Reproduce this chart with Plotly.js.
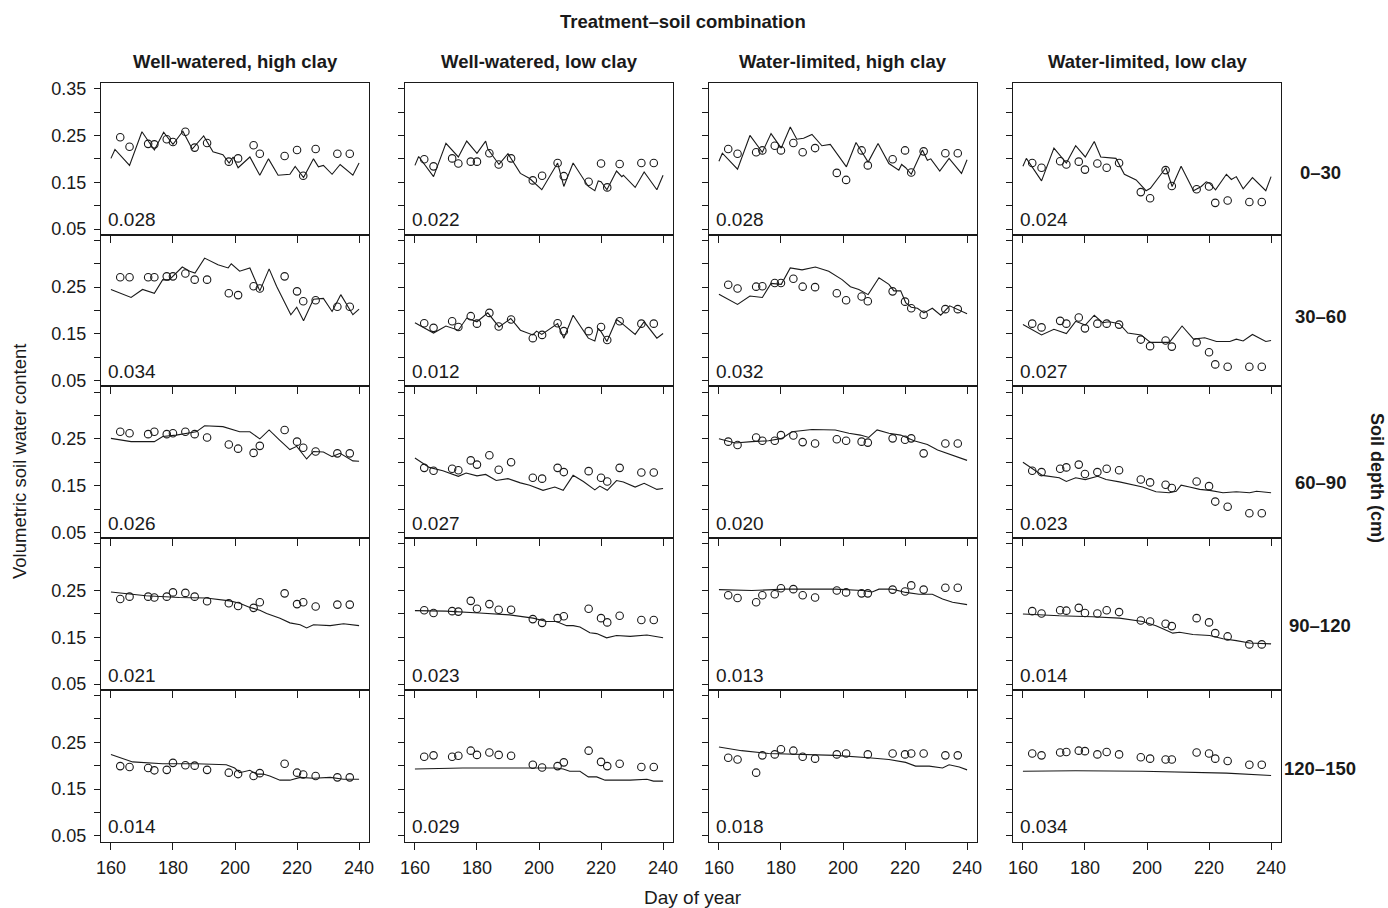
<!DOCTYPE html>
<html><head><meta charset="utf-8">
<script src="https://cdn.plot.ly/plotly-3.0.1.min.js"></script>
<style>html,body{margin:0;padding:0;background:#fff}#chart{width:1388px;height:908px}</style>
</head><body><div id="chart"></div>
<script>
// ---------- DATA ----------
const columns = ["Well-watered, high clay","Well-watered, low clay","Water-limited, high clay","Water-limited, low clay"];
const depths = ["0–30","30–60","60–90","90–120","120–150"];
const xTicks = [160,180,200,220,240];
const yTicks = [0.05,0.10,0.15,0.20,0.25,0.30,0.35];
const obsDays = [163,166,172,174,178,180,184,187,191,198,201,206,208,216,220,222,226,233,237];
const rmse = [
  ["0.028","0.022","0.028","0.024"],
  ["0.034","0.012","0.032","0.027"],
  ["0.026","0.027","0.020","0.023"],
  ["0.021","0.023","0.013","0.014"],
  ["0.014","0.029","0.018","0.034"]
];

// Well-watered, high clay
const simD_r1c1 = [160,161.3,166,170,174,177,180,183.2,186.2,189.9,192.9,196.1,198.1,199.4,201,204.8,208,210.8,213.9,217.7,219.4,222.1,225.3,226.9,228.5,231.3,233.9,238,240];
const simV_r1c1 = [0.201,0.220,0.186,0.258,0.219,0.257,0.231,0.259,0.221,0.249,0.215,0.209,0.191,0.204,0.181,0.204,0.165,0.200,0.165,0.167,0.184,0.160,0.200,0.183,0.186,0.167,0.188,0.165,0.191];
const obs_r1c1 = [0.246,0.226,0.232,0.231,0.242,0.236,0.258,0.224,0.234,0.194,0.201,0.229,0.211,0.206,0.219,0.164,0.221,0.211,0.211];

const simD_r2c1 = [160,166.5,170.2,174,176.7,178.7,183,185.4,187.1,190.2,194.5,197.8,198.8,201.5,204.8,208,211,213.4,218,219.9,222.1,225.3,228.5,231.3,234.1,238,240];
const simV_r2c1 = [0.245,0.228,0.245,0.237,0.266,0.265,0.293,0.284,0.280,0.312,0.298,0.291,0.300,0.284,0.291,0.242,0.289,0.252,0.191,0.207,0.178,0.224,0.226,0.198,0.234,0.191,0.203];
const obs_r2c1 = [0.271,0.271,0.271,0.271,0.273,0.273,0.279,0.266,0.266,0.237,0.233,0.252,0.247,0.273,0.241,0.220,0.222,0.208,0.208];

const simD_r3c1 = [160,166.5,174,176.7,181,187.5,190.2,196.1,201.5,204.8,208,211,214.3,217.7,219.9,223.1,225.3,228.5,231.3,233.9,238,240];
const simV_r3c1 = [0.251,0.244,0.244,0.255,0.258,0.265,0.278,0.276,0.265,0.265,0.250,0.269,0.248,0.227,0.234,0.207,0.223,0.222,0.212,0.219,0.203,0.202];
const obs_r3c1 = [0.265,0.262,0.260,0.265,0.260,0.262,0.265,0.260,0.253,0.238,0.229,0.220,0.235,0.269,0.244,0.231,0.223,0.219,0.219];

const simD_r4c1 = [160,171.3,182.1,190.7,198.3,201.5,204.8,208,210.2,214.5,217.7,221,223.1,225.3,230.7,235,240];
const simV_r4c1 = [0.247,0.239,0.235,0.234,0.228,0.223,0.214,0.208,0.201,0.191,0.181,0.177,0.170,0.177,0.175,0.179,0.175];
const obs_r4c1 = [0.232,0.237,0.237,0.235,0.237,0.246,0.245,0.237,0.227,0.223,0.217,0.213,0.225,0.244,0.221,0.225,0.216,0.220,0.220];

const simD_r5c1 = [160,167,176.7,187.5,197.2,199.9,201.5,204.8,206.9,209.1,211.2,214.5,217.7,221,225.3,230.7,235,240];
const simV_r5c1 = [0.224,0.208,0.204,0.204,0.202,0.195,0.185,0.190,0.182,0.182,0.178,0.169,0.169,0.175,0.173,0.175,0.171,0.171];
const obs_r5c1 = [0.199,0.197,0.195,0.190,0.191,0.206,0.201,0.200,0.191,0.185,0.182,0.178,0.184,0.204,0.185,0.181,0.178,0.175,0.175];

// Well-watered, low clay
const simD_r1c2 = [160,161.2,166,170,174,176.7,180,182.8,183.5,187.1,190,194,197,200.9,206,208,211,215.9,218,219.1,220,221.9,225,226.7,227.2,231,233.9,238,240];
const simV_r1c2 = [0.186,0.205,0.162,0.233,0.204,0.238,0.212,0.238,0.221,0.188,0.211,0.169,0.158,0.134,0.191,0.141,0.191,0.141,0.132,0.153,0.151,0.134,0.174,0.162,0.165,0.139,0.172,0.134,0.165];
const obs_r1c2 = [0.199,0.184,0.201,0.190,0.194,0.194,0.212,0.188,0.201,0.154,0.164,0.191,0.163,0.151,0.190,0.139,0.189,0.191,0.191];

const simD_r2c2 = [160,166,170,174,176.7,180,183.5,187.1,190.9,194,198,199.2,200.9,206,208,211,215.9,218,219.1,220,221.9,225,227.2,231,233.9,238,240];
const simV_r2c2 = [0.174,0.152,0.167,0.158,0.184,0.176,0.195,0.165,0.183,0.158,0.148,0.156,0.149,0.172,0.141,0.190,0.141,0.135,0.162,0.155,0.134,0.181,0.170,0.149,0.176,0.141,0.151];
const obs_r2c2 = [0.173,0.163,0.177,0.165,0.188,0.172,0.195,0.166,0.181,0.141,0.148,0.173,0.156,0.156,0.165,0.137,0.177,0.172,0.172];

const simD_r3c2 = [160,164.6,169,174,176.5,180,182.8,186.2,190,194,197,201.3,205.1,207.8,211,214.3,218,219.6,222,225,227.2,231,233.9,238,240];
const simV_r3c2 = [0.209,0.189,0.182,0.170,0.177,0.171,0.174,0.161,0.165,0.156,0.151,0.140,0.147,0.140,0.172,0.159,0.141,0.149,0.140,0.161,0.158,0.147,0.155,0.142,0.144];
const obs_r3c2 = [0.188,0.182,0.186,0.183,0.204,0.195,0.215,0.184,0.200,0.167,0.165,0.188,0.179,0.181,0.167,0.159,0.188,0.178,0.178];

const simD_r4c2 = [160,170,180.8,190.5,198.1,202.4,205.6,208.9,211,213.2,216.4,218.6,221.8,225,229.4,234.8,240];
const simV_r4c2 = [0.207,0.206,0.202,0.198,0.191,0.184,0.184,0.175,0.175,0.172,0.160,0.158,0.149,0.154,0.152,0.155,0.149];
const obs_r4c2 = [0.208,0.202,0.206,0.205,0.228,0.211,0.221,0.209,0.209,0.189,0.181,0.191,0.195,0.211,0.191,0.182,0.196,0.187,0.187];

const simD_r5c2 = [160,175.4,191.6,205.6,207.8,209.9,213.2,215.9,218.6,221.3,229.4,234.8,236.9,240];
const simV_r5c2 = [0.193,0.195,0.195,0.195,0.193,0.188,0.188,0.176,0.176,0.169,0.169,0.171,0.167,0.167];
const obs_r5c2 = [0.219,0.222,0.219,0.221,0.232,0.223,0.228,0.223,0.221,0.202,0.196,0.199,0.207,0.232,0.208,0.199,0.204,0.197,0.197];

// Water-limited, high clay
const simD_r1c3 = [160,161.1,166,170,174,176.8,180.1,183,185.1,187.3,190,193.2,195.9,201.1,204.2,208.1,211.3,214.8,218,218.9,220.2,222,225.6,227.2,228.3,231.2,234.2,238.2,240];
const simV_r1c3 = [0.195,0.212,0.178,0.250,0.214,0.254,0.223,0.268,0.242,0.244,0.252,0.228,0.231,0.183,0.235,0.193,0.233,0.190,0.176,0.188,0.181,0.167,0.219,0.197,0.200,0.174,0.201,0.169,0.198];
const obs_r1c3 = [0.221,0.211,0.214,0.218,0.228,0.218,0.234,0.214,0.223,0.170,0.155,0.218,0.186,0.199,0.218,0.171,0.216,0.212,0.212];

const simD_r2c3 = [160,166,170,174,176.8,180.1,183,186.8,191.1,195.4,199.7,202.4,205.1,208.1,211.6,214.8,216.4,218.6,220.2,222,224,226.1,228.8,231.5,234.4,238.3,240];
const simV_r2c3 = [0.235,0.213,0.231,0.228,0.258,0.256,0.291,0.287,0.293,0.284,0.266,0.251,0.245,0.234,0.270,0.256,0.242,0.242,0.217,0.207,0.205,0.195,0.205,0.190,0.210,0.197,0.193];
const obs_r2c3 = [0.255,0.247,0.251,0.252,0.259,0.259,0.268,0.251,0.250,0.237,0.222,0.230,0.220,0.241,0.219,0.205,0.191,0.203,0.203];

const simD_r3c3 = [160,165.2,170.6,176,180.3,183.5,190,197.5,201.9,205.6,208.3,211,214.8,218.6,222.9,227.2,230.5,233.7,237.1,240];
const simV_r3c3 = [0.250,0.241,0.244,0.246,0.251,0.265,0.270,0.269,0.262,0.258,0.253,0.269,0.262,0.258,0.246,0.238,0.226,0.219,0.212,0.204];
const obs_r3c3 = [0.244,0.237,0.253,0.246,0.246,0.258,0.257,0.243,0.240,0.249,0.246,0.244,0.242,0.251,0.248,0.251,0.219,0.240,0.240];

const simD_r4c3 = [160,170.6,181.4,197.5,206.2,209.4,211.6,215.9,220.2,224.5,228.8,232.1,235.3,240];
const simV_r4c3 = [0.252,0.250,0.253,0.253,0.250,0.247,0.253,0.253,0.246,0.242,0.242,0.232,0.225,0.220];
const obs_r4c3 = [0.240,0.234,0.225,0.240,0.242,0.255,0.253,0.240,0.235,0.250,0.246,0.244,0.244,0.252,0.248,0.261,0.252,0.256,0.256];

const simD_r5c3 = [160,167.3,176,186.8,197.5,208.3,214.8,220.2,223.4,227.8,232.1,234.2,237.5,240];
const simV_r5c3 = [0.240,0.232,0.226,0.224,0.222,0.217,0.213,0.207,0.199,0.199,0.195,0.202,0.197,0.191];
const obs_r5c3 = [0.217,0.213,0.185,0.222,0.224,0.235,0.232,0.219,0.215,0.224,0.226,null,0.224,0.226,0.224,0.226,0.226,0.222,0.222];

// Water-limited, low clay
const simD_r1c4 = [160,161.1,166,170,174,177,180.1,183,185.1,187.8,190,192.7,196.5,199.7,201.1,206.1,208.1,211,215,217.5,219.1,220.2,222.1,225.6,227.2,228.8,231,234,238.3,240];
const simV_r1c4 = [0.184,0.201,0.153,0.223,0.191,0.228,0.204,0.237,0.204,0.202,0.201,0.167,0.155,0.132,0.137,0.181,0.141,0.184,0.132,0.141,0.151,0.148,0.134,0.167,0.156,0.162,0.136,0.160,0.132,0.162];
const obs_r1c4 = [0.191,0.181,0.195,0.188,0.194,0.177,0.190,0.181,0.191,0.129,0.116,0.176,0.142,0.135,0.141,0.106,0.111,0.108,0.108];

const simD_r2c4 = [160,166,170,174,177,180.1,183,185.7,187.8,191.1,193.8,198.1,201.1,207.2,211.3,215,218.6,222.4,226.7,228.8,231,234,238.3,240];
const simV_r2c4 = [0.170,0.148,0.160,0.151,0.177,0.169,0.190,0.174,0.176,0.172,0.152,0.148,0.132,0.132,0.167,0.139,0.142,0.134,0.134,0.139,0.135,0.149,0.134,0.136];
const obs_r2c4 = [0.172,0.164,0.178,0.172,0.185,0.162,0.172,0.172,0.170,0.138,0.124,0.136,0.123,0.132,0.111,0.085,0.080,0.080,0.080];

const simD_r3c4 = [160,166.3,171.7,174,177,180.1,184.1,186.8,191.1,196.5,198.6,202.9,207.2,209.4,211,213.7,217,220.2,224.5,228.8,233.1,235.3,240];
const simV_r3c4 = [0.200,0.172,0.167,0.159,0.167,0.163,0.170,0.163,0.158,0.149,0.147,0.137,0.135,0.138,0.151,0.147,0.142,0.140,0.135,0.137,0.135,0.138,0.135];
const obs_r3c4 = [0.182,0.179,0.186,0.189,0.195,0.175,0.179,0.186,0.183,0.163,0.157,0.152,0.145,0.159,0.149,0.116,0.105,0.091,0.091];

const simD_r4c4 = [160,171.7,182.4,191.1,198.6,202.9,206.2,208.3,210.5,214.8,220.2,224.5,228.8,233.1,240];
const simV_r4c4 = [0.200,0.196,0.194,0.191,0.184,0.175,0.165,0.159,0.161,0.156,0.154,0.147,0.143,0.138,0.136];
const obs_r4c4 = [0.206,0.201,0.208,0.207,0.213,0.202,0.201,0.208,0.204,0.186,0.184,0.179,0.174,0.191,0.182,0.159,0.152,0.135,0.135];

const simD_r5c4 = [160,177,198.6,214.8,225.6,240];
const simV_r5c4 = [0.188,0.189,0.188,0.186,0.184,0.179];
const obs_r5c4 = [0.226,0.222,0.228,0.229,0.232,0.231,0.224,0.229,0.224,0.218,0.215,0.213,0.213,0.228,0.226,0.215,0.210,0.202,0.202];

const simDays = [
  [simD_r1c1,simD_r1c2,simD_r1c3,simD_r1c4],
  [simD_r2c1,simD_r2c2,simD_r2c3,simD_r2c4],
  [simD_r3c1,simD_r3c2,simD_r3c3,simD_r3c4],
  [simD_r4c1,simD_r4c2,simD_r4c3,simD_r4c4],
  [simD_r5c1,simD_r5c2,simD_r5c3,simD_r5c4]
];
const simVals = [
  [simV_r1c1,simV_r1c2,simV_r1c3,simV_r1c4],
  [simV_r2c1,simV_r2c2,simV_r2c3,simV_r2c4],
  [simV_r3c1,simV_r3c2,simV_r3c3,simV_r3c4],
  [simV_r4c1,simV_r4c2,simV_r4c3,simV_r4c4],
  [simV_r5c1,simV_r5c2,simV_r5c3,simV_r5c4]
];
const obsVals = [
  [obs_r1c1,obs_r1c2,obs_r1c3,obs_r1c4],
  [obs_r2c1,obs_r2c2,obs_r2c3,obs_r2c4],
  [obs_r3c1,obs_r3c2,obs_r3c3,obs_r3c4],
  [obs_r4c1,obs_r4c2,obs_r4c3,obs_r4c4],
  [obs_r5c1,obs_r5c2,obs_r5c3,obs_r5c4]
];

// ---------- LAYOUT ----------
const W = 1388, H = 908;
const colLeft = [101, 405, 709, 1013], panelW = 268;
const rowTop = [83, 234.7, 386.4, 538.1, 689.8], panelH = 151.7;
const FONT = "Liberation Sans, Arial, Helvetica, sans-serif";
const INK = "#1a1a1a";

const traces = [];
const layout = {
  width: W, height: H,
  margin: {l:0, r:0, t:0, b:0},
  paper_bgcolor: "#fff", plot_bgcolor: "#fff",
  showlegend: false,
  font: {family: FONT, color: INK, size: 18},
  annotations: []
};

for (let r = 0; r < 5; r++) {
  for (let c = 0; c < 4; c++) {
    const idx = r*4 + c + 1;
    const xn = idx === 1 ? "x" : "x" + idx;
    const yn = idx === 1 ? "y" : "y" + idx;
    traces.push({
      x: simDays[r][c], y: simVals[r][c], xaxis: xn, yaxis: yn,
      type: "scatter", mode: "lines", line: {color: INK, width: 1.1},
      hoverinfo: "skip"
    });
    traces.push({
      x: obsDays, y: obsVals[r][c], xaxis: xn, yaxis: yn,
      type: "scatter", mode: "markers",
      marker: {symbol: "circle-open", size: 7.5, color: INK, line: {width: 1.1, color: INK}},
      hoverinfo: "skip"
    });
    const xa = {
      domain: [colLeft[c]/W, (colLeft[c]+panelW)/W],
      range: [156.8, 243.2], anchor: yn,
      showline: true, mirror: true, linecolor: INK, linewidth: 1,
      ticks: "outside", ticklen: 7, tickwidth: 1, tickcolor: INK,
      tickmode: "array", tickvals: xTicks, ticktext: xTicks.map(String),
      showticklabels: r === 4, tickfont: {size: 18, family: FONT, color: INK},
      ticklabelstandoff: 3,
      showgrid: false, zeroline: false, fixedrange: true
    };
    const ylabels = yTicks.map(v => {
      const s = v.toFixed(2);
      if (s === "0.05" || s === "0.15" || s === "0.25") return s;
      if (s === "0.35" && r === 0) return s;
      return "";
    });
    const ya = {
      domain: [1 - (rowTop[r]+panelH)/H, 1 - rowTop[r]/H],
      range: [0.038, 0.362], anchor: xn,
      showline: true, mirror: true, linecolor: INK, linewidth: 1,
      ticks: "outside", ticklen: 6, tickwidth: 1, tickcolor: INK,
      tickmode: "array", tickvals: yTicks, ticktext: ylabels,
      showticklabels: c === 0, tickfont: {size: 18, family: FONT, color: INK},
      ticklabelstandoff: 4,
      showgrid: false, zeroline: false, fixedrange: true
    };
    layout[idx === 1 ? "xaxis" : "xaxis" + idx] = xa;
    layout[idx === 1 ? "yaxis" : "yaxis" + idx] = ya;
    layout.annotations.push({
      text: rmse[r][c], xref: xn + " domain", yref: yn + " domain",
      x: 0.02, y: 0.015, xanchor: "left", yanchor: "bottom",
      showarrow: false, font: {size: 19, family: FONT, color: INK}
    });
  }
}

function paperAnn(text, xpx, ypx, opts) {
  return Object.assign({
    text: text, xref: "paper", yref: "paper",
    x: xpx / W, y: 1 - ypx / H, xanchor: "center", yanchor: "middle",
    showarrow: false, font: {size: 18, family: FONT, color: INK}
  }, opts || {});
}

layout.annotations.push(paperAnn("<b>Treatment–soil combination</b>", 683, 21, {font: {size: 18.5, family: FONT, color: INK}}));
for (let c = 0; c < 4; c++) {
  layout.annotations.push(paperAnn("<b>" + columns[c] + "</b>", colLeft[c] + panelW/2, 62, {font: {size: 18.5, family: FONT, color: INK}}));
}
const rowLabelY = [172, 316, 482, 625, 768];
for (let r = 0; r < 5; r++) {
  layout.annotations.push(paperAnn("<b>" + depths[r] + "</b>", 1320, rowLabelY[r], {font: {size: 18.5, family: FONT, color: INK}}));
}
layout.annotations.push(paperAnn("<b>Soil depth (cm)</b>", 1377, 478, {textangle: 90, font: {size: 18, family: FONT, color: INK}}));
layout.annotations.push(paperAnn("Volumetric soil water content", 20, 462, {textangle: -90, font: {size: 18.5, family: FONT, color: INK}}));
layout.annotations.push(paperAnn("Day of year", 693, 897, {font: {size: 19, family: FONT, color: INK}}));

Plotly.newPlot("chart", traces, layout, {staticPlot: true, displayModeBar: false});
</script>
</body></html>
